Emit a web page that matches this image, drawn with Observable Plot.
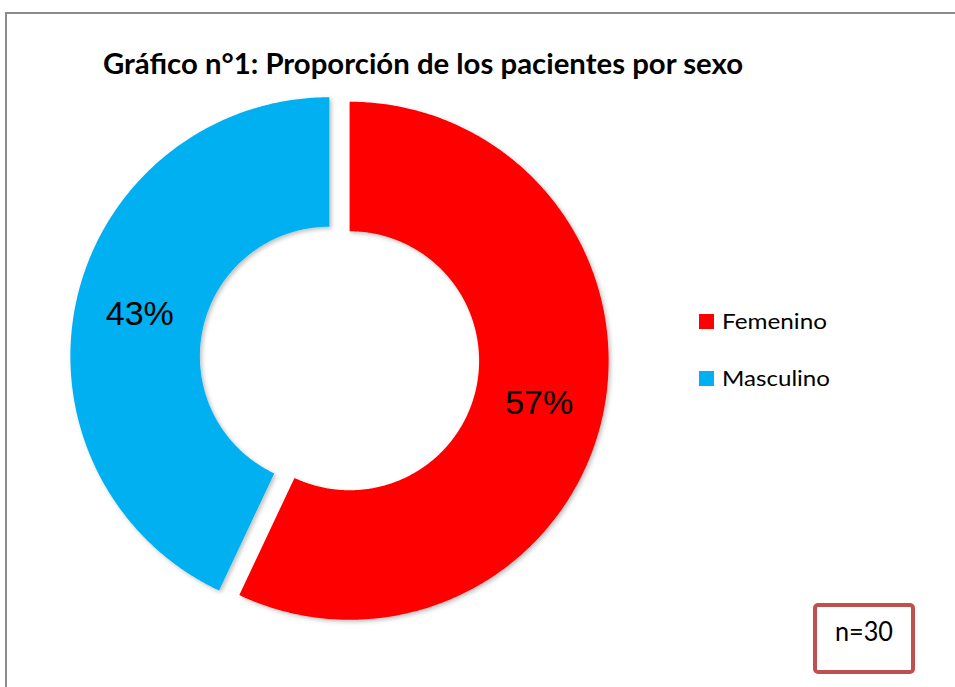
<!DOCTYPE html>
<html><head><meta charset="utf-8">
<script src="https://cdn.jsdelivr.net/npm/d3@7"></script>
<script src="https://cdn.jsdelivr.net/npm/@observablehq/plot@0.6"></script>
<style>
html,body{margin:0;padding:0;background:#fff;}
#chart{position:relative;width:955px;height:687px;overflow:hidden;background:#fff;}
#chart svg{position:absolute;left:0;top:0;}
</style></head><body><div id="chart"></div>
<script>
const title = "Gráfico n°1: Proporción de los pacientes por sexo";
const categories = ["Femenino", "Masculino"];
const values = [57, 43];
const colors = ["#FF0000", "#00B0F0"];
const sampleNote = "n=30";

const W = 955, H = 687;
const cx = 339, cy = 358, R = 259;
const innerRatio = 0.5, explode = 0.04;

const total = d3.sum(values);
let acc = 0;
const slices = categories.map((c, i) => {
  const a0 = acc / total * 2 * Math.PI; acc += values[i];
  const a1 = acc / total * 2 * Math.PI;
  return {cat: c, value: values[i], a0, a1, mid: (a0 + a1) / 2};
});

const points = [];
for (const s of slices) {
  const ox = explode * Math.sin(s.mid), oy = explode * Math.cos(s.mid);
  const n = Math.max(2, Math.ceil((s.a1 - s.a0) / (Math.PI / 360)));
  for (let k = 0; k <= n; k++) {
    const a = s.a0 + (s.a1 - s.a0) * k / n;
    points.push({cat: s.cat, x: ox + Math.sin(a), y: oy + Math.cos(a)});
  }
  for (let k = n; k >= 0; k--) {
    const a = s.a0 + (s.a1 - s.a0) * k / n;
    points.push({cat: s.cat, x: ox + innerRatio * Math.sin(a), y: oy + innerRatio * Math.cos(a)});
  }
}
const labelR = (1 + innerRatio) / 2;
const labels = slices.map(s => ({
  cat: s.cat,
  text: Math.round(s.value / total * 100) + "%",
  x: (explode + labelR) * Math.sin(s.mid),
  y: (explode + labelR) * Math.cos(s.mid)
}));

const plot = Plot.plot({
  width: W, height: H, margin: 0,
  x: {domain: [-cx / R, (W - cx) / R], axis: null},
  y: {domain: [(cy - H) / R, cy / R], axis: null},
  color: {domain: categories, range: colors},
  marks: [
    Plot.line(points, {x: "x", y: "y", z: "cat", fill: "cat", stroke: "none", curve: "linear"}),
    Plot.text(labels, {x: "x", y: "y", text: "text", fontSize: 34, fontFamily: "Liberation Sans, Arial, sans-serif", fill: "black"})
  ]
});
const chart = document.getElementById("chart");
chart.appendChild(plot);

// soft shadow like the original
const psvg = d3.select(plot);
const defs = psvg.insert("defs", ":first-child");
const f = defs.append("filter").attr("id", "sh").attr("x", "-10%").attr("y", "-10%").attr("width", "120%").attr("height", "120%");
f.append("feDropShadow").attr("dx", 2).attr("dy", 2).attr("stdDeviation", 2).attr("flood-color", "#000").attr("flood-opacity", 0.25);
psvg.select('g[aria-label="line"]').attr("filter", "url(#sh)");

// overlay: frame, title, legend, note box
const ov = d3.select(chart).append("svg").attr("width", W).attr("height", H);
ov.append("rect").attr("x", 6).attr("y", 13).attr("width", 1200).attr("height", 1200)
  .attr("fill", "none").attr("stroke", "#8c8c8c").attr("stroke-width", 2);
ov.append("text").attr("x", 103).attr("y", 74).text(title)
  .attr("font-family", "Lato, 'Open Sans', sans-serif").attr("font-weight", "bold").attr("font-size", 28)
  .attr("textLength", 640).attr("lengthAdjust", "spacingAndGlyphs").attr("fill", "#000");

const legW = [105, 108];
categories.forEach((c, i) => {
  const y0 = 314 + i * 57;
  ov.append("rect").attr("x", 699).attr("y", y0).attr("width", 15).attr("height", 15).attr("fill", colors[i]);
  ov.append("text").attr("x", 722).attr("y", y0 + 15).text(c)
    .attr("font-family", "Lato, 'Open Sans', sans-serif").attr("font-size", 22)
    .attr("textLength", legW[i]).attr("lengthAdjust", "spacingAndGlyphs").attr("fill", "#000");
});

ov.append("rect").attr("x", 815).attr("y", 605).attr("width", 98).attr("height", 67).attr("rx", 3)
  .attr("fill", "#fff").attr("stroke", "#C0504D").attr("stroke-width", 4);
ov.append("text").attr("x", 864).attr("y", 641).attr("text-anchor", "middle").text(sampleNote)
  .attr("font-family", "Lato, 'Open Sans', sans-serif").attr("font-size", 26)
  .attr("textLength", 58).attr("lengthAdjust", "spacingAndGlyphs").attr("fill", "#000");
</script></body></html>
